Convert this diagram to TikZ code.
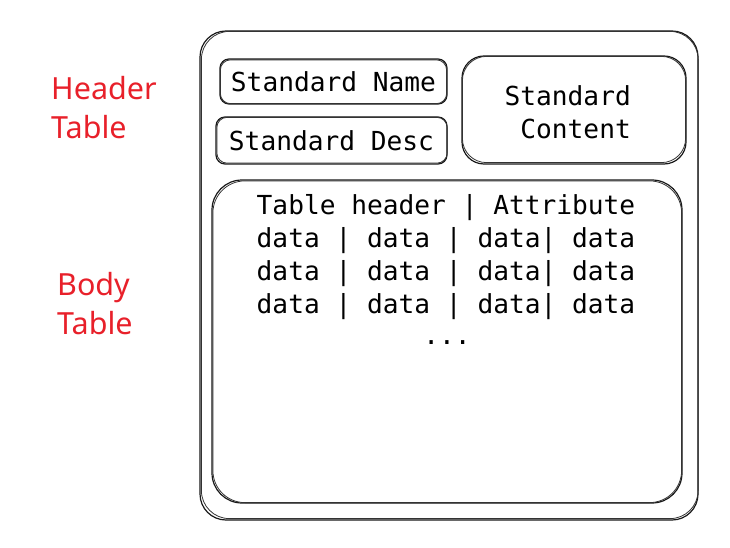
\documentclass[tikz,border=0pt]{standalone}
\usepackage{fontspec}
\newfontfamily\monof{DejaVu Sans Mono}
\newfontfamily\labf{Noto Sans}
\definecolor{labred}{HTML}{E8202A}
\begin{document}
\begin{tikzpicture}[x=1pt,y=-1pt,
  box/.style={draw=black!90, line width=1.2pt, inner sep=0pt},
  ghost/.style={draw=black!80, line width=0.8pt},
  mono/.style={font=\monof\fontsize{26.2}{33}\selectfont},
  redlab/.style={font=\labf\fontsize{30.5}{39}\selectfont, text=labred, align=left, inner sep=0pt}]
\useasboundingbox (0,0) rectangle (730,548);
% outer frame
\node[box, rounded corners=26pt, minimum width=498pt, minimum height=489pt] (outer) at (449,275.5) {};
\draw[ghost, rounded corners=28pt] ([xshift=2pt,yshift=-1pt]outer.north west) rectangle ([xshift=-0.5pt,yshift=2pt]outer.south east);
% header boxes
\node[box, rounded corners=9pt, minimum width=227pt, minimum height=45pt, mono] (name) at (333.5,81.5) {Standard Name};
\draw[ghost, rounded corners=10pt] ([xshift=1pt,yshift=-1.5pt]name.north west) rectangle ([xshift=-1pt,yshift=1pt]name.south east);
\node[box, rounded corners=9pt, minimum width=231pt, minimum height=47pt, mono] (desc) at (331.5,140.5) {Standard Desc};
\draw[ghost, rounded corners=10pt] ([xshift=1.5pt,yshift=-1pt]desc.north west) rectangle ([xshift=-0.5pt,yshift=1.5pt]desc.south east);
\node[box, rounded corners=22pt, minimum width=224pt, minimum height=108pt] (content) at (574,110) {};
\draw[ghost, rounded corners=24pt] ([xshift=1pt,yshift=-1pt]content.north west) rectangle ([xshift=-1pt,yshift=2pt]content.south east);
\node[mono, align=right, anchor=east, inner sep=0pt] (contenttxt) at (631,112) {Standard\\Content};
% body box
\node[box, rounded corners=30pt, minimum width=470pt, minimum height=323pt] (body) at (447,341.5) {};
\draw[ghost, rounded corners=32pt] ([xshift=1.5pt,yshift=-1.5pt]body.north west) rectangle ([xshift=-1pt,yshift=1pt]body.south east);
\node[mono, align=left, anchor=north, inner sep=0pt] (bodytxt) at (446,194) {Table header | Attribute\\data | data | data| data\\data | data | data| data\\data | data | data| data};
\node[mono, inner sep=0pt] (dots) at (447,343) {...};
% red labels
\node[redlab, anchor=north west] (hlab) at (51,76) {Header\\Table};
\node[redlab, anchor=north west] (blab) at (57,272) {Body\\Table};
\end{tikzpicture}
\end{document}
